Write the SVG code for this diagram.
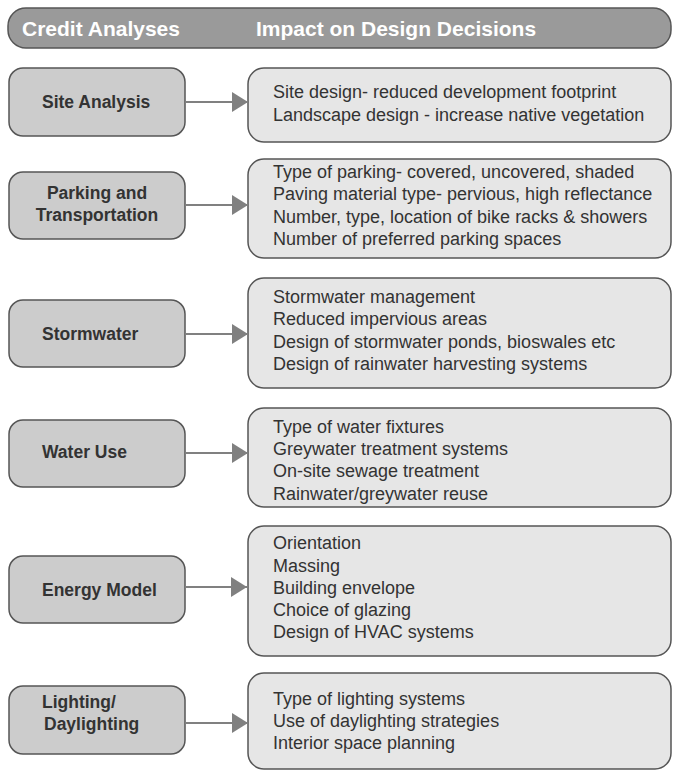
<svg xmlns="http://www.w3.org/2000/svg" width="673" height="771" viewBox="0 0 673 771">
  <defs>
    <style>
      .hdr { fill: #9a9a9a; stroke: #555555; stroke-width: 1.5; }
      .hdr-t { font-family: "Liberation Sans", Arial, sans-serif; font-weight: bold; font-size: 21px; fill: #ffffff; }
      .credit { fill: #cccccc; stroke: #555555; stroke-width: 1.5; }
      .credit-t { font-family: "Liberation Sans", Arial, sans-serif; font-weight: bold; font-size: 17.5px; fill: #333333; }
      .impact { fill: #e6e6e6; stroke: #555555; stroke-width: 1.5; }
      .impact-t { font-family: "Liberation Sans", Arial, sans-serif; font-size: 18px; fill: #333333; }
      .conn { stroke: #808080; stroke-width: 2; fill: none; }
    </style>
    <marker id="head" markerUnits="userSpaceOnUse" markerWidth="17" markerHeight="20" refX="16" refY="10" orient="auto">
      <path d="M0,0 L16,10 L0,20 Z" fill="#808080"/>
    </marker>
  </defs>

  <rect width="673" height="771" fill="#ffffff"/>

  <!-- column header bar -->
  <g id="header">
    <rect class="hdr" x="8" y="8" width="663" height="40" rx="18" ry="18"/>
    <text class="hdr-t" x="22" y="36">Credit Analyses</text>
    <text class="hdr-t" x="256" y="36">Impact on Design Decisions</text>
  </g>

  <!-- credit analysis boxes -->
  <g id="site-analysis">
    <rect class="credit" x="9" y="68" width="176" height="68" rx="14"/>
    <text class="credit-t" x="42" y="108">Site Analysis</text>
  </g>
  <g id="parking-transportation">
    <rect class="credit" x="9" y="172" width="176" height="67" rx="14"/>
    <text class="credit-t" x="97" y="199" text-anchor="middle">Parking and</text>
    <text class="credit-t" x="97" y="221" text-anchor="middle">Transportation</text>
  </g>
  <g id="stormwater">
    <rect class="credit" x="9" y="300" width="176" height="67" rx="14"/>
    <text class="credit-t" x="42" y="340">Stormwater</text>
  </g>
  <g id="water-use">
    <rect class="credit" x="9" y="420" width="176" height="67" rx="14"/>
    <text class="credit-t" x="42" y="458">Water Use</text>
  </g>
  <g id="energy-model">
    <rect class="credit" x="9" y="556" width="176" height="67" rx="14"/>
    <text class="credit-t" x="42" y="596">Energy Model</text>
  </g>
  <g id="lighting-daylighting">
    <rect class="credit" x="9" y="686" width="176" height="68" rx="14"/>
    <text class="credit-t" x="42" y="708">Lighting/</text>
    <text class="credit-t" x="44" y="730">Daylighting</text>
  </g>

  <!-- design decision boxes -->
  <g id="site-design">
    <rect class="impact" x="248" y="68" width="423" height="74" rx="16"/>
    <text class="impact-t" x="273" y="98">Site design- reduced development footprint</text>
    <text class="impact-t" x="273" y="121">Landscape design - increase native vegetation</text>
  </g>
  <g id="parking-design">
    <rect class="impact" x="248" y="159" width="423" height="99" rx="16"/>
    <text class="impact-t" x="273" y="178">Type of parking- covered, uncovered, shaded</text>
    <text class="impact-t" x="273" y="200">Paving material type- pervious, high reflectance</text>
    <text class="impact-t" x="273" y="223">Number, type, location of bike racks &amp; showers</text>
    <text class="impact-t" x="273" y="245">Number of preferred parking spaces</text>
  </g>
  <g id="stormwater-design">
    <rect class="impact" x="248" y="278" width="423" height="110" rx="16"/>
    <text class="impact-t" x="273" y="303">Stormwater management</text>
    <text class="impact-t" x="273" y="325">Reduced impervious areas</text>
    <text class="impact-t" x="273" y="348">Design of stormwater ponds, bioswales etc</text>
    <text class="impact-t" x="273" y="370">Design of rainwater harvesting systems</text>
  </g>
  <g id="water-design">
    <rect class="impact" x="248" y="408" width="423" height="99" rx="16"/>
    <text class="impact-t" x="273" y="433">Type of water fixtures</text>
    <text class="impact-t" x="273" y="455">Greywater treatment systems</text>
    <text class="impact-t" x="273" y="477">On-site sewage treatment</text>
    <text class="impact-t" x="273" y="500">Rainwater/greywater reuse</text>
  </g>
  <g id="energy-design">
    <rect class="impact" x="248" y="526" width="423" height="130" rx="16"/>
    <text class="impact-t" x="273" y="549">Orientation</text>
    <text class="impact-t" x="273" y="572">Massing</text>
    <text class="impact-t" x="273" y="594">Building envelope</text>
    <text class="impact-t" x="273" y="616">Choice of glazing</text>
    <text class="impact-t" x="273" y="638">Design of HVAC systems</text>
  </g>
  <g id="lighting-design">
    <rect class="impact" x="248" y="673" width="423" height="96" rx="16"/>
    <text class="impact-t" x="273" y="705">Type of lighting systems</text>
    <text class="impact-t" x="273" y="727">Use of daylighting strategies</text>
    <text class="impact-t" x="273" y="749">Interior space planning</text>
  </g>

  <!-- connectors -->
  <g id="connectors">
    <line class="conn" x1="185" y1="102" x2="248" y2="102" marker-end="url(#head)"/>
    <line class="conn" x1="185" y1="205" x2="248" y2="205" marker-end="url(#head)"/>
    <line class="conn" x1="185" y1="334" x2="248" y2="334" marker-end="url(#head)"/>
    <line class="conn" x1="185" y1="453" x2="248" y2="453" marker-end="url(#head)"/>
    <line class="conn" x1="185" y1="587" x2="247" y2="587" marker-end="url(#head)"/>
    <line class="conn" x1="185" y1="723" x2="248" y2="723" marker-end="url(#head)"/>
  </g>
</svg>
